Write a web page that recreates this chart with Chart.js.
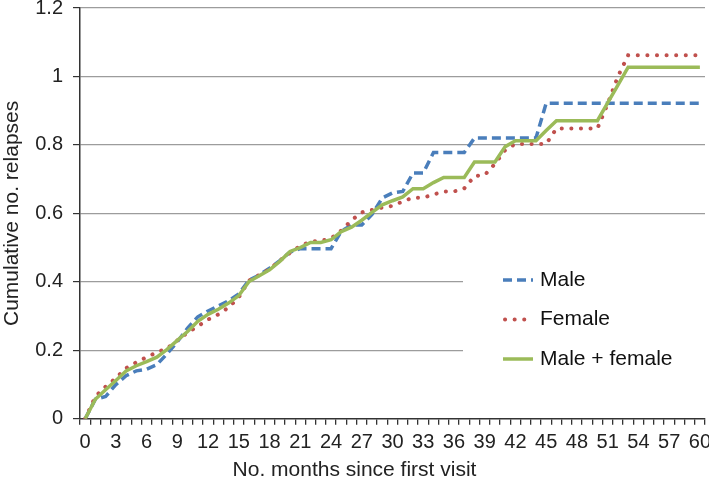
<!DOCTYPE html>
<html>
<head>
<meta charset="utf-8">
<script src="https://cdn.jsdelivr.net/npm/chart.js@4/dist/chart.umd.min.js"></script>
<style>
  html, body { margin: 0; padding: 0; background: #fff; }
</style>
</head>
<body>
<canvas id="chart" width="709" height="483"></canvas>
<script>
// months since first visit (category axis)
const months = ['0','1','2','3','4','5','6','7','8','9','10','11','12','13','14','15','16','17','18','19','20',
  '21','22','23','24','25','26','27','28','29','30','31','32','33','34','35','36','37','38','39','40',
  '41','42','43','44','45','46','47','48','49','50','51','52','53','54','55','56','57','58','59','60'];

const male = [0, 0.057, 0.065, 0.1, 0.126, 0.14, 0.145, 0.158, 0.19, 0.225, 0.265,
  0.298, 0.315, 0.33, 0.345, 0.365, 0.405, 0.42, 0.44, 0.462, 0.487,
  0.497, 0.497, 0.497, 0.497, 0.548, 0.566, 0.566, 0.597, 0.645, 0.66,
  0.664, 0.718, 0.718, 0.778, 0.778, 0.778, 0.778, 0.82, 0.82, 0.82,
  0.82, 0.82, 0.82, 0.82, 0.922, 0.922, 0.922, 0.922, 0.922, 0.922,
  0.922, 0.922, 0.922, 0.922, 0.922, 0.922, 0.922, 0.922, 0.922, 0.922];

const female = [0, 0.065, 0.094, 0.119, 0.148, 0.165, 0.18, 0.194, 0.206, 0.229, 0.252,
  0.27, 0.29, 0.305, 0.325, 0.355, 0.404, 0.42, 0.437, 0.462, 0.485,
  0.505, 0.518, 0.52, 0.527, 0.55, 0.58, 0.603, 0.61, 0.617, 0.622,
  0.635, 0.646, 0.646, 0.655, 0.664, 0.664, 0.673, 0.709, 0.712, 0.745,
  0.785, 0.803, 0.803, 0.803, 0.803, 0.848, 0.848, 0.848, 0.848, 0.848,
  0.92, 1.0, 1.062, 1.062, 1.062, 1.062, 1.062, 1.062, 1.062, 1.062];

const both = [0, 0.057, 0.085, 0.112, 0.14, 0.155, 0.167, 0.18, 0.203, 0.229, 0.255,
  0.285, 0.305, 0.32, 0.338, 0.36, 0.401, 0.418, 0.435, 0.46, 0.489,
  0.5, 0.515, 0.515, 0.523, 0.547, 0.56, 0.58, 0.603, 0.625, 0.637,
  0.648, 0.672, 0.672, 0.69, 0.705, 0.705, 0.705, 0.75, 0.75, 0.75,
  0.795, 0.812, 0.812, 0.812, 0.842, 0.871, 0.871, 0.871, 0.871, 0.871,
  0.923, 0.975, 1.027, 1.027, 1.027, 1.027, 1.027, 1.027, 1.027, 1.027];

const yTicks = [0, 0.2, 0.4, 0.6, 0.8, 1, 1.2];

Chart.defaults.font.family = '"Liberation Sans", Arial, sans-serif';
Chart.defaults.color = '#222';

// legend drawn inside the plot, on a white box that hides part of the grid
const boxLegend = {
  id: 'boxLegend',
  beforeDatasetsDraw(chart) {
    const ctx = chart.ctx;
    ctx.save();
    ctx.fillStyle = '#fff';
    ctx.fillRect(463, 250, 246, 135);
    chart.data.datasets.forEach((ds, i) => {
      const y = 280 + i * 39.5;
      ctx.beginPath();
      ctx.strokeStyle = ds.borderColor;
      ctx.lineWidth = ds.borderWidth;
      ctx.lineCap = ds.borderCapStyle || 'butt';
      ctx.setLineDash(ds.borderDash || []);
      ctx.moveTo(i === 1 ? 505 : 503, y);
      ctx.lineTo(533, y);
      ctx.stroke();
      ctx.setLineDash([]);
      ctx.fillStyle = '#111';
      ctx.font = '21px "Liberation Sans", Arial, sans-serif';
      ctx.textBaseline = 'middle';
      ctx.fillText(ds.label, 540, y);
    });
    ctx.restore();
  }
};

new Chart(document.getElementById('chart'), {
  type: 'line',
  data: {
    labels: months,
    datasets: [
      {
        label: 'Male',
        data: male,
        borderColor: '#4a7ebb',
        borderWidth: 3.5,
        borderDash: [9, 5],
        order: 3
      },
      {
        label: 'Female',
        data: female,
        borderColor: '#c0504d',
        borderWidth: 4,
        borderDash: [0.1, 9.5],
        borderCapStyle: 'round',
        order: 2
      },
      {
        label: 'Male + female',
        data: both,
        borderColor: '#9bbb59',
        borderWidth: 3.5,
        order: 1
      }
    ]
  },
  options: {
    responsive: false,
    animation: false,
    devicePixelRatio: 1,
    elements: { point: { radius: 0 }, line: { tension: 0 } },
    layout: { padding: 0 },
    plugins: {
      legend: { display: false },
      tooltip: { enabled: false },
      title: {
        display: true,
        position: 'bottom',
        text: 'No. months since first visit',
        font: { size: 21, weight: 'normal' },
        color: '#222',
        padding: { top: 0, bottom: 0 }
      }
    },
    scales: {
      x: {
        type: 'category',
        offset: true,
        grid: {
          offset: true,
          drawOnChartArea: false,
          tickLength: 6,
          tickColor: '#333',
          lineWidth: 1.3
        },
        border: { color: '#333', width: 1.5 },
        ticks: {
          autoSkip: false,
          maxRotation: 0,
          padding: 6,
          font: { size: 20 },
          color: '#222',
          callback: function (v, i) { return i % 3 === 0 ? this.getLabelForValue(v) : ''; }
        },
        afterFit(s) {
          s.height = 39;
          s.paddingLeft = 0;
          s.paddingRight = 4;
        }
      },
      y: {
        min: 0,
        max: 1.2,
        afterBuildTicks(s) { s.ticks = yTicks.map(v => ({ value: v })); },
        grid: {
          color: ctx => ctx.tick && ctx.tick.value === 0 ? 'rgba(0,0,0,0)' : '#9c9c9c',
          tickColor: '#333',
          tickLength: 7,
          lineWidth: 1.2
        },
        border: { color: '#333', width: 1.5 },
        ticks: {
          padding: 10,
          font: { size: 20 },
          color: '#222',
          callback: v => String(+v.toFixed(1))
        },
        title: {
          display: true,
          text: 'Cumulative no. relapses',
          font: { size: 21 },
          color: '#222',
          padding: 0
        },
        afterFit(s) {
          s.width = 80;
          s.paddingTop = 8;
        }
      }
    }
  },
  plugins: [boxLegend]
});
</script>
</body>
</html>
